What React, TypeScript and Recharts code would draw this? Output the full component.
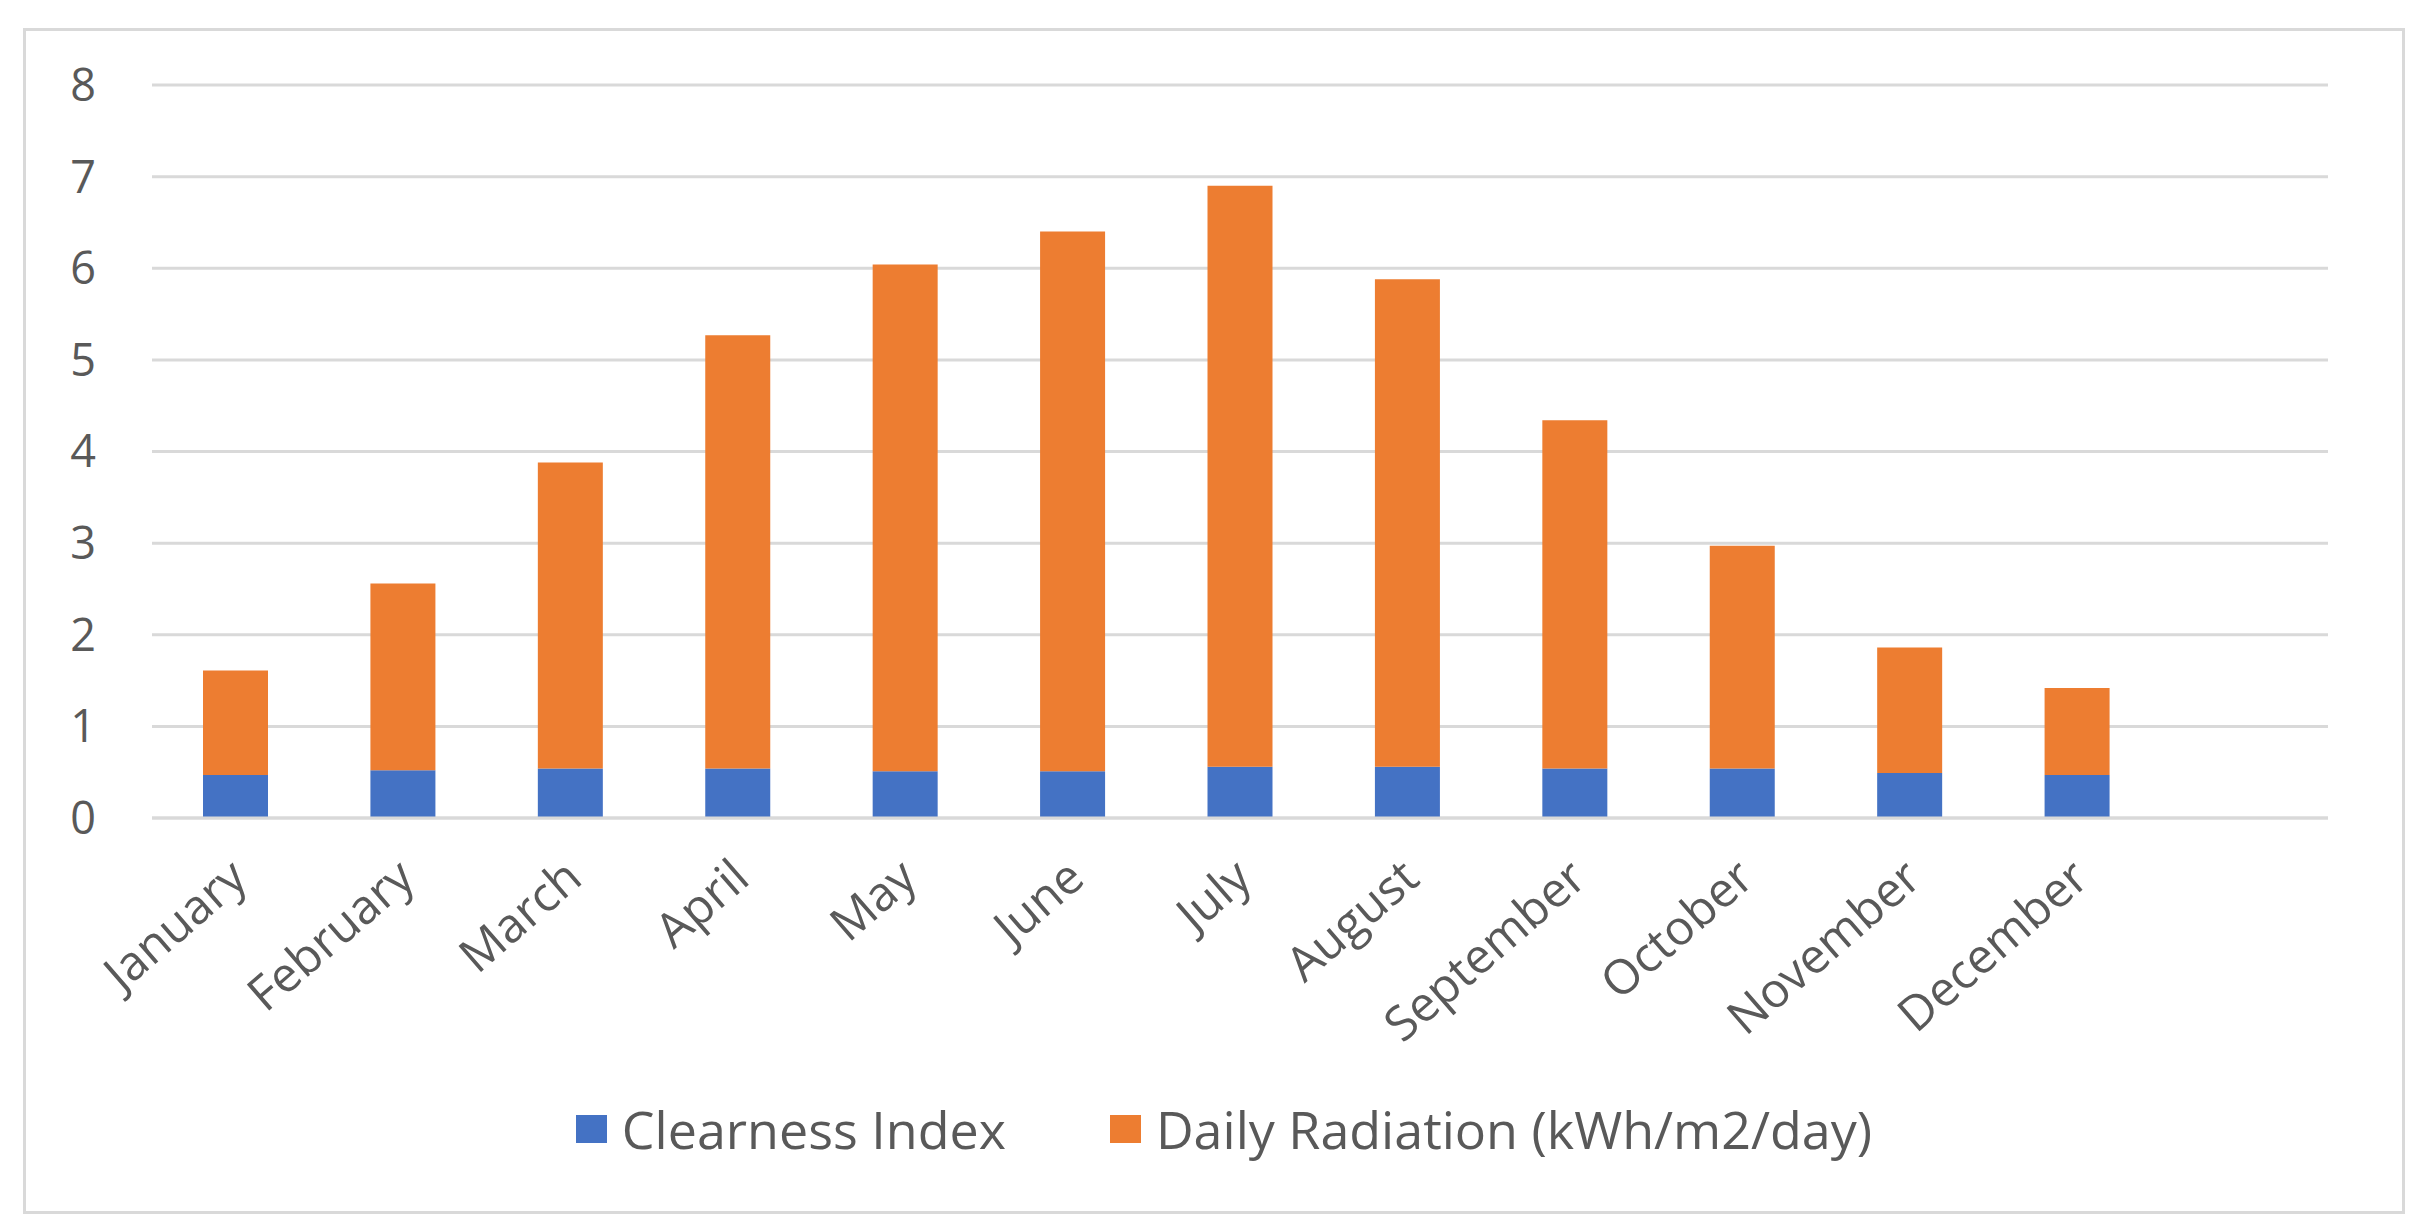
import React from 'react';
import { BarChart, Bar, XAxis, YAxis, CartesianGrid, Legend } from 'recharts';

const months = [
  'January', 'February', 'March', 'April', 'May', 'June',
  'July', 'August', 'September', 'October', 'November', 'December',
];
const clearnessIndex = [0.47, 0.52, 0.54, 0.54, 0.51, 0.51, 0.56, 0.56, 0.54, 0.54, 0.49, 0.47];
const dailyRadiation = [1.14, 2.04, 3.34, 4.73, 5.53, 5.89, 6.34, 5.32, 3.8, 2.43, 1.37, 0.95];
const yTicks = [0, 1, 2, 3, 4, 5, 6, 7, 8];

const data = months.map((name, i) => ({
  name,
  clearness: clearnessIndex[i],
  radiation: dailyRadiation[i],
}));

const FONT = '"Open Sans", sans-serif';
const TEXT = '#595959';

const MonthTick = (props: any) => {
  const { x, y, payload } = props;
  const ax = x + 14;
  const ay = y + 56;
  return (
    <text
      x={ax}
      y={ay}
      transform={`rotate(-41, ${ax}, ${ay})`}
      textAnchor="end"
      fill={TEXT}
      fontSize={48}
      fontFamily={FONT}
    >
      {payload.value}
    </text>
  );
};

const legendItems = [
  { label: 'Clearness Index', color: '#4472C4' },
  { label: 'Daily Radiation (kWh/m2/day)', color: '#ED7D31' },
];

const LegendContent = () => (
  <div
    style={{
      display: 'flex',
      justifyContent: 'center',
      alignItems: 'center',
      fontFamily: FONT,
      paddingLeft: 120,
    }}
  >
    {legendItems.map((item, i) => (
      <div key={item.label} style={{ display: 'flex', alignItems: 'center', marginLeft: i === 0 ? 0 : 104 }}>
        <span style={{ display: 'inline-block', width: 31, height: 28, background: item.color, marginRight: 15 }} />
        <span style={{ fontSize: 52, color: TEXT, lineHeight: '58px' }}>{item.label}</span>
      </div>
    ))}
  </div>
);

export default function App() {
  return (
    <div style={{ position: 'absolute', left: 0, top: 0, width: 2425, height: 1228, background: '#fff' }}>
      <div
        style={{
          position: 'absolute',
          left: 23,
          top: 28,
          width: 2376,
          height: 1180,
          border: '3px solid #d9d9d9',
        }}
      />
      <div style={{ position: 'absolute', left: 0, top: 0 }}>
        <BarChart
          width={2425}
          height={1228}
          data={data}
          margin={{ top: 85, right: 97, left: 0, bottom: 70 }}
          barSize={65}
        >
          <CartesianGrid horizontal vertical={false} stroke="#d9d9d9" strokeWidth={3} />
          <XAxis
            dataKey="name"
            interval={0}
            height={282}
            padding={{ left: 0, right: 167 }}
            axisLine={{ stroke: '#d9d9d9', strokeWidth: 3 }}
            tickLine={false}
            tick={<MonthTick />}
          />
          <YAxis
            width={152}
            domain={[0, 8]}
            ticks={yTicks}
            axisLine={false}
            tickLine={false}
            tickMargin={50}
            tick={{ fill: TEXT, fontSize: 45, fontFamily: FONT }}
          />
          <Legend verticalAlign="bottom" height={58} content={<LegendContent />} />
          <Bar dataKey="clearness" name="Clearness Index" stackId="a" fill="#4472C4" isAnimationActive={false} />
          <Bar dataKey="radiation" name="Daily Radiation (kWh/m2/day)" stackId="a" fill="#ED7D31" isAnimationActive={false} />
        </BarChart>
      </div>
    </div>
  );
}
